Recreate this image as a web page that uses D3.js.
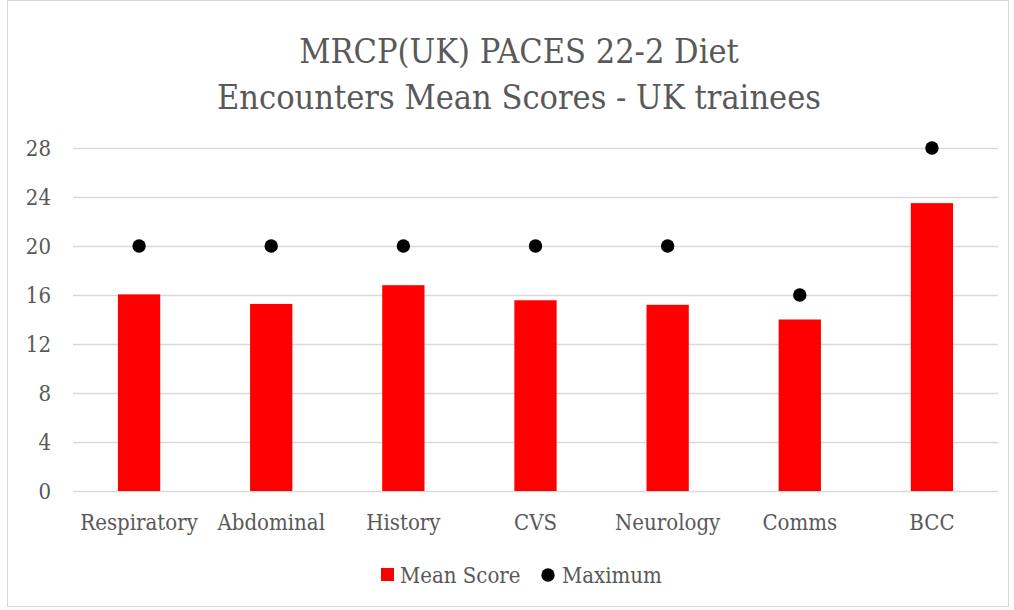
<!DOCTYPE html>
<html><head><meta charset="utf-8">
<script src="https://cdn.jsdelivr.net/npm/d3@7"></script>
<style>body{margin:0;background:#fff;} text{font-family:"DejaVu Serif",serif;font-stretch:condensed;fill:#595959;}</style>
</head><body><svg id="c" width="1014" height="610"></svg>
<script>
const categories = ["Respiratory","Abdominal","History","CVS","Neurology","Comms","BCC"];
const meanScores = [16.05, 15.27, 16.8, 15.57, 15.2, 14.0, 23.5];
const maximums = [20, 20, 20, 20, 20, 16, 28];
const yTicks = [0,4,8,12,16,20,24,28];
const titleLines = ["MRCP(UK) PACES 22-2 Diet","Encounters Mean Scores - UK trainees"];
const legendLabels = ["Mean Score","Maximum"];

const svg = d3.select("#c");
svg.append("rect").attr("x",7.5).attr("y",0.5).attr("width",1001).attr("height",606).attr("fill","#fff").attr("stroke","#d9d9d9");
const x = d3.scaleBand().domain(categories).range([73,998]).paddingInner(0.68).paddingOuter(0.34);
const y = d3.scaleLinear().domain([0,28]).range([491,148]);

svg.append("g").selectAll("line").data(yTicks).join("line")
 .attr("x1",73).attr("x2",998).attr("y1",d=>Math.round(y(d))+0.5).attr("y2",d=>Math.round(y(d))+0.5)
 .attr("stroke","#d9d9d9").attr("stroke-width",1.5);
svg.append("g").selectAll("text").data(yTicks).join("text")
 .attr("x",51).attr("y",d=>y(d)).attr("dy","0.36em").attr("text-anchor","end").attr("font-size",22).text(d=>d);

svg.append("g").selectAll("rect").data(categories).join("rect")
 .attr("x",d=>x(d)).attr("width",x.bandwidth()).attr("y",(d,i)=>y(meanScores[i])).attr("height",(d,i)=>y(0)-y(meanScores[i])).attr("fill","#ff0000");
svg.append("g").selectAll("circle").data(categories).join("circle")
 .attr("cx",d=>x(d)+x.bandwidth()/2).attr("cy",(d,i)=>y(maximums[i])).attr("r",6.7).attr("fill","#000");

svg.append("g").selectAll("text").data(categories).join("text")
 .attr("x",d=>x(d)+x.bandwidth()/2).attr("y",530).attr("text-anchor","middle").attr("font-size",22).text(d=>d);

svg.append("g").selectAll("text").data(titleLines).join("text")
 .attr("x",519).attr("y",(d,i)=>63+i*46).attr("text-anchor","middle").attr("font-size",34).text(d=>d);

const lg = svg.append("g");
lg.append("rect").attr("x",381).attr("y",568).attr("width",13).attr("height",13).attr("fill","#ff0000");
lg.append("text").attr("x",400).attr("y",583).attr("font-size",22).text(legendLabels[0]);
lg.append("circle").attr("cx",548).attr("cy",575).attr("r",6.7).attr("fill","#000");
lg.append("text").attr("x",562).attr("y",583).attr("font-size",22).text(legendLabels[1]);
</script></body></html>
